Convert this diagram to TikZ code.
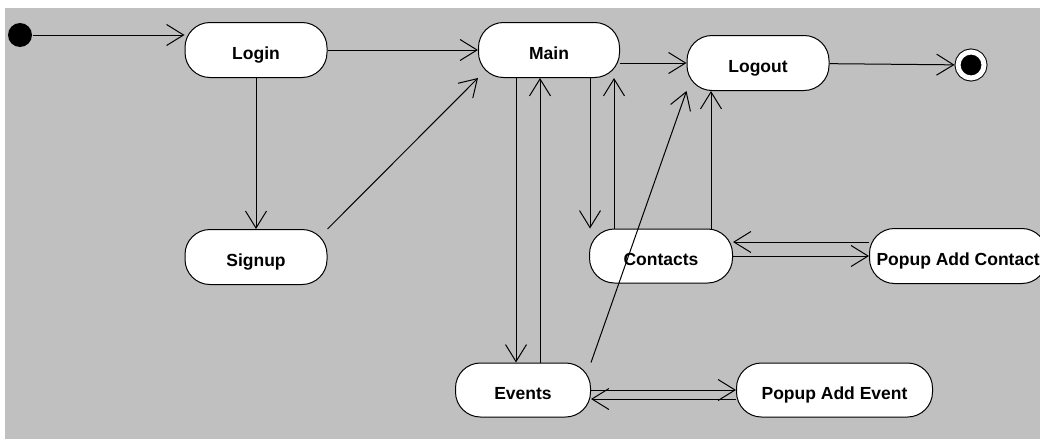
\documentclass[tikz,border=0pt]{standalone}
\usepackage{fontspec}
\setmainfont{Liberation Sans}
\usetikzlibrary{arrows.meta, positioning}
\definecolor{canvas}{HTML}{C0C0C0}

\begin{document}
\begin{tikzpicture}[x=1pt, y=-1pt,
  line width=1pt,
  >={Straight Barb[length=17pt,width=21pt]},
  state/.style={rectangle, rounded corners=25pt, draw, fill=white,
    minimum height=55pt, minimum width=142pt, text height=18.5pt, text depth=0pt,
    font=\fontsize{17.5}{20}\selectfont\bfseries}]

  \useasboundingbox (0,0) rectangle (1040,439);
  \clip (0,0) rectangle (1040,439);
  \fill[canvas] (5,8) rectangle (1040,439);

  \node[circle, fill=black, minimum size=24pt, inner sep=0pt] (init) at (20,35) {};
  \node[state] (Login) at (256,50) {Login};
  \node[state, below=151pt of Login] (Signup) {Signup};
  \node[state, minimum width=141pt] (Main) at (549,50) {Main};
  \node[state] (Logout) at (758,63) {Logout};
  \node[circle, draw, fill=black, inner sep=0pt, minimum size=26pt, outer sep=3.5pt,
    double=white, double distance=5pt] (final) at (971,65) {};
  \node[state, minimum width=143pt, minimum height=54pt] (Contacts) at (661,256) {Contacts};
  \node[state, anchor=west, minimum width=0pt, inner xsep=7pt] (PopContact) at (869,256) {Popup Add Contact};
  \node[state, minimum width=135pt, minimum height=54pt] (Events) at (523,390) {Events};
  \node[state, minimum width=196pt, minimum height=54pt, right=145pt of Events] (PopEvent) {Popup Add Event};

  \draw[->] (init) -- (init -| Login.west);
  \draw[->] (Login) -- (Main);
  \draw[->] (Login) -- (Signup);
  \draw[->] (Signup.north east) -- (Main.south west);
  \draw[->] (Main.east |- Logout.west) -- (Logout.west);
  \draw[->] (Logout) -- (final);

  \draw[->] ([xshift=-33pt]Main.south) -- ([xshift=-33pt]Main.south |- Events.north);
  \draw[->] ([xshift=-9pt]Main.south |- Events.north) -- ([xshift=-9pt]Main.south);
  \draw[->] ([xshift=41pt]Main.south) -- ([xshift=41pt]Main.south |- Contacts.north);
  \draw[->] ([xshift=65pt]Main.south |- Contacts.north) -- ([xshift=65pt]Main.south);
  \draw[->] ([xshift=50pt]Contacts.north) -- ([xshift=50pt]Contacts.north |- Logout.south);
  \draw[->] (Events.north east) -- (Logout.south west);

  \draw[->] ([yshift=14pt]Contacts.east -| PopContact.west) -- ([yshift=14pt]Contacts.east);
  \draw[->] (Contacts.east) -- (Contacts.east -| PopContact.west);
  \draw[->] (Events.east) -- (PopEvent.west);
  \draw[->] ([yshift=-9pt]Events.east -| PopEvent.west) -- ([yshift=-9pt]Events.east);
\end{tikzpicture}
\end{document}
